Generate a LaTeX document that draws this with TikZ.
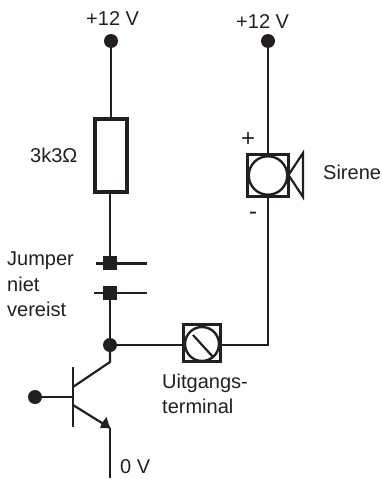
\documentclass[tikz,border=0pt]{standalone}
\usepackage{fontspec}
\setmainfont{Liberation Sans}
\usetikzlibrary{arrows.meta}
\definecolor{ink}{HTML}{231F20}
\tikzset{
  wire/.style={draw=ink,line width=2.2pt},
  dotnode/.style={circle,fill=ink,inner sep=0pt,minimum size=14pt},
  padnode/.style={rectangle,fill=ink,inner sep=0pt,minimum size=13.5pt},
  label/.style={text=ink,font=\fontsize{20}{20}\selectfont,inner sep=0pt,anchor=base west},
  boxnode/.style={rectangle,draw=ink,line width=2.2pt,inner sep=0pt,fill=white},
  ringnode/.style={circle,draw=ink,line width=2.4pt,inner sep=0pt,fill=white}
}
\begin{document}
\begin{tikzpicture}[x=1pt,y=-1pt]
\useasboundingbox (0,0) rectangle (382,479);
% supplies
\node[dotnode] (vcc1) at (111,41) {};
\node[dotnode] (vcc2) at (268,41) {};
\node[label] (t1) at (86,25) {+12 V};
\node[label] (t2) at (236,28) {+12 V};
% resistor
\node[boxnode,line width=4pt,minimum width=32pt,minimum height=73pt] (res) at (110.5,155) {};
\node[label] (t3) at (30,162) {3k3Ω};
% jumper
\node[padnode] (j1) at (110,263) {};
\node[padnode] (j2) at (110,293) {};
\coordinate (j1l) at (96,263.5);
\coordinate (j1r) at (147,263.5);
\coordinate (j2l) at (94,293);
\coordinate (j2r) at (147,293);
\node[label] (t4) at (7,265) {Jumper};
\node[label] (t5) at (7,291) {niet};
\node[label] (t6) at (7,316) {vereist};
% junction
\node[dotnode] (jn) at (110,345) {};
% terminal
\node[boxnode,minimum size=37pt] (term) at (202,343) {};
\node[ringnode,minimum size=34pt] (ring) at (202,344) {};
\coordinate (sl1) at (193,335);
\coordinate (sl2) at (213,357);
\node[label] (t7) at (162,388) {Uitgangs-};
\node[label] (t8) at (162,413) {terminal};
% siren
\node[boxnode,minimum width=41pt,minimum height=42pt] (sir) at (268,175.5) {};
\node[ringnode,minimum size=38.5pt] (sirc) at (268,175.5) {};
\coordinate (h0) at (288.5,175);
\coordinate (h1) at (303,153);
\coordinate (h2) at (303,197);
\coordinate (corner) at (268,345);
\node[label] (t9) at (323,179) {Sirene};
\node[label,font=\fontsize{24}{24}\selectfont] (t10) at (241,146) {+};
\node[label,font=\fontsize{24}{24}\selectfont] (t11) at (249,219) {-};
% transistor
\node[dotnode] (base) at (35,397) {};
\coordinate (bartop) at (73,367);
\coordinate (barbot) at (73,427);
\coordinate (bar) at (73,397);
\coordinate (ci) at (73,387);
\coordinate (cj) at (110,362);
\coordinate (ei) at (73,405);
\coordinate (ej) at (110,428);
\coordinate (ea) at (100,428);
\coordinate (en) at (102,423);
\coordinate (eb) at (106.5,417);
\coordinate (gnd) at (110,478);
\node[label] (t12) at (120,473) {0 V};
% connectors
\draw[wire] (vcc1) -- (res.north -| vcc1);
\draw[wire] (res.south -| j1) -- (j1);
\draw[wire] (j1l) -- (j1r);
\draw[wire] (j2l) -- (j2r);
\draw[wire] (j2) -- (jn);
\draw[wire] (jn) -- (term.west |- jn);
\draw[wire] (term.east |- jn) -- (corner) -- (sir.south -| corner);
\draw[wire] (vcc2) -- (sir.north -| vcc2);
\draw[wire] (sl1) -- (sl2);
\draw[wire,line join=miter] (h1) -- (h0) -- (h2) -- cycle;
\draw[wire] (jn) -- (cj) -- (ci);
\draw[wire] (bartop) -- (barbot);
\draw[wire] (base) -- (bar);
\draw[wire] (ei) -- (ej);
\fill[ink] (ej) -- (ea) -- (en) -- (eb) -- cycle;
\draw[wire] (ej) -- (gnd);
\end{tikzpicture}
\end{document}
